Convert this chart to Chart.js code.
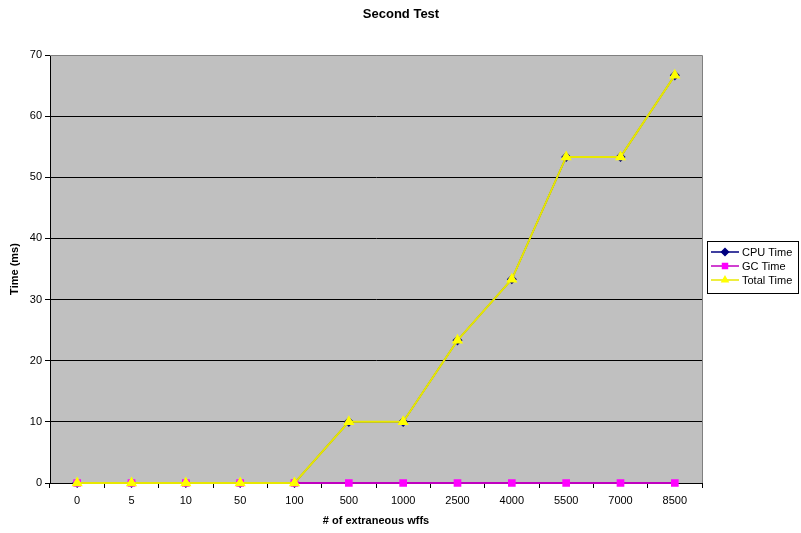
<!DOCTYPE html>
<html><head><meta charset="utf-8">
<script src="https://cdn.jsdelivr.net/npm/chart.js@4.4.0/dist/chart.umd.min.js"></script>
<style>html,body{margin:0;padding:0;background:#fff}#wrap{width:801px;height:533px}</style>
</head><body><div id="wrap"><canvas id="c" width="801" height="533"></canvas></div>
<script>
const categories = ['0','5','10','50','100','500','1000','2500','4000','5500','7000','8500'];
const cpuTime   = [0,0,0,0,0,10,10,23.33,33.33,53.33,53.33,66.67];
const gcTime    = [0,0,0,0,0,0,0,0,0,0,0,0];
const totalTime = [0,0,0,0,0,10,10,23.33,33.33,53.33,53.33,66.67];
const yTicks = [0,10,20,30,40,50,60,70];
const chartTitle = 'Second Test';
const xTitle = '# of extraneous wffs';
const yTitle = 'Time (ms)';
const FONT = '"Liberation Sans", Arial, sans-serif';

const decor = {
  id: 'decor',
  beforeDatasetsDraw(chart) {
    const {ctx, chartArea: a} = chart;
    ctx.save();
    ctx.strokeStyle = '#808080'; ctx.lineWidth = 1;
    ctx.beginPath();
    ctx.moveTo(a.left, a.top + 0.5); ctx.lineTo(a.right + 0.5, a.top + 0.5);
    ctx.lineTo(a.right + 0.5, a.bottom);
    ctx.stroke();
    ctx.restore();
  },
  beforeDraw(chart) {
    const {ctx, chartArea: a} = chart;
    ctx.save();
    ctx.fillStyle = '#c0c0c0';
    ctx.fillRect(a.left, a.top, a.right - a.left, a.bottom - a.top);
    ctx.restore();
  },
  afterDraw(chart) {
    const {ctx, chartArea: a} = chart;
    ctx.save();
    ctx.fillStyle = '#000';
    ctx.font = 'bold 13px ' + FONT;
    ctx.textAlign = 'center'; ctx.textBaseline = 'middle';
    ctx.fillText(chartTitle, 401, 14);
    ctx.font = 'bold 11px ' + FONT;
    ctx.fillText(xTitle, (a.left + a.right) / 2, 521);
    ctx.translate(15, (a.top + a.bottom) / 2);
    ctx.rotate(-Math.PI / 2);
    ctx.fillText(yTitle, 0, 0);
    ctx.restore();
    // legend
    ctx.save();
    const lx = 707, ly = 241, lw = 91, lh = 52;
    ctx.fillStyle = '#fff'; ctx.fillRect(lx, ly, lw, lh);
    ctx.strokeStyle = '#000'; ctx.lineWidth = 1;
    ctx.strokeRect(lx + 0.5, ly + 0.5, lw, lh);
    chart.data.datasets.forEach((ds, i) => {
      const y = ly + 11 + i * 14;
      ctx.strokeStyle = ds.borderColor; ctx.lineWidth = 1.5;
      ctx.beginPath(); ctx.moveTo(lx + 4, y); ctx.lineTo(lx + 32, y); ctx.stroke();
      ctx.fillStyle = ds.pointBackgroundColor;
      ctx.strokeStyle = ds.pointBorderColor;
      Chart.helpers.drawPoint(ctx, {pointStyle: ds.pointStyle, radius: 3.5, rotation: 0, borderWidth: 1}, lx + 18, y);
      ctx.fillStyle = '#000'; ctx.font = '11px ' + FONT;
      ctx.textAlign = 'left'; ctx.textBaseline = 'middle';
      ctx.fillText(ds.label, lx + 35, y + 0.5);
    });
    ctx.restore();
  }
};

new Chart(document.getElementById('c'), {
  type: 'line',
  data: {
    labels: categories,
    datasets: [
      {label: 'CPU Time', data: cpuTime, borderColor: '#000080', backgroundColor: '#000080',
       pointBackgroundColor: '#000080', pointBorderColor: '#000080', pointStyle: 'rectRot', pointRadius: 4, borderWidth: 1.5, order: 3, clip: false},
      {label: 'GC Time', data: gcTime, borderColor: '#c000c0', backgroundColor: '#ff00ff',
       pointBackgroundColor: '#ff00ff', pointBorderColor: '#ff00ff', pointStyle: 'rect', pointRadius: 4, borderWidth: 2, order: 2, clip: false},
      {label: 'Total Time', data: totalTime, borderColor: '#e8e800', backgroundColor: '#ffff00',
       pointBackgroundColor: '#ffff00', pointBorderColor: '#ffff00', pointStyle: 'triangle', pointRadius: 4.5, borderWidth: 2, order: 1, clip: false}
    ]
  },
  options: {
    responsive: false, animation: false,
    layout: {padding: {left: 0, right: 99, top: 55, bottom: 0}},
    plugins: {legend: {display: false}, title: {display: false}, tooltip: {enabled: false}},
    elements: {line: {tension: 0}},
    scales: {
      x: {
        type: 'category', offset: true,
        afterFit(s) { s.height = 50; },
        grid: {display: true, drawOnChartArea: false, drawTicks: true, tickLength: 5, color: '#000', offset: true},
        border: {display: true, color: '#000', width: 1},
        ticks: {color: '#000', font: {family: FONT, size: 11}, padding: 6, maxRotation: 0}
      },
      y: {
        min: 0, max: 70,
        afterFit(s) { s.width = 50; },
        afterBuildTicks(s) { s.ticks = yTicks.map(v => ({value: v})); },
        grid: {color: (c) => c.tick && c.tick.value === 70 ? '#808080' : '#000', tickColor: '#000', lineWidth: 1, tickLength: 5, drawTicks: true},
        border: {display: true, color: '#000', width: 1},
        ticks: {color: '#000', font: {family: FONT, size: 11}, padding: 3}
      }
    }
  },
  plugins: [decor]
});
</script>
</body></html>
